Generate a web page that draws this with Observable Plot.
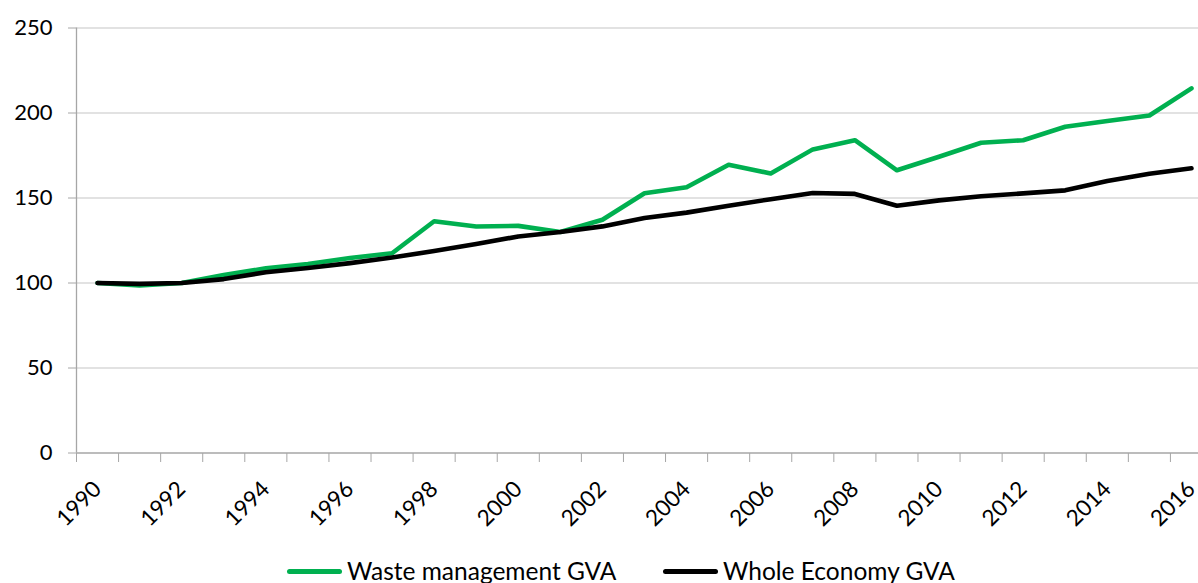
<!DOCTYPE html>
<html>
<head>
<meta charset="utf-8">
<script src="https://cdn.jsdelivr.net/npm/d3@7"></script>
<script src="https://cdn.jsdelivr.net/npm/@observablehq/plot@0.6"></script>
<style>
  html, body { margin: 0; padding: 0; background: #fff; overflow: hidden; }
  #wrap { position: relative; width: 1198px; height: 583px; font-family: Lato, "Open Sans", sans-serif; }
  .leg { position: absolute; top: 556px; height: 30px; line-height: 30px; display: flex; align-items: center; font-size: 24.5px; color: #000; white-space: nowrap; }
  .sw { width: 55px; height: 5px; border-radius: 3px; margin-right: 5px; }
</style>
</head>
<body>
<div id="wrap"></div>
<script>
const years = [1990,1991,1992,1993,1994,1995,1996,1997,1998,1999,2000,2001,2002,2003,2004,2005,2006,2007,2008,2009,2010,2011,2012,2013,2014,2015,2016];
const wasteGVA = [100,98.6,100,104.7,108.6,111.2,114.7,117.5,136.3,133.2,133.6,130,137.2,152.8,156.3,169.6,164.4,178.6,184,166.3,174.3,182.5,184,191.9,195.3,198.5,214.5];
const economyGVA = [100,99.5,100,102.3,106.3,108.8,111.7,115,118.8,122.9,127.4,130,133.3,138.2,141.4,145.5,149.3,152.9,152.4,145.4,148.6,151,152.7,154.5,160,164.3,167.5];
const yTicks = [0,50,100,150,200,250];
const xLabelYears = [1990,1992,1994,1996,1998,2000,2002,2004,2006,2008,2010,2012,2014,2016];
const seriesNames = ["Waste management GVA","Whole Economy GVA"];
const seriesColors = ["#00B050","#000000"];

const rows = [];
years.forEach((y,i) => {
  rows.push({year:y, value:wasteGVA[i], series:seriesNames[0]});
  rows.push({year:y, value:economyGVA[i], series:seriesNames[1]});
});
const tickBounds = years.map(y => y - 0.5).concat([years[years.length-1] + 0.5]);

const chart = Plot.plot({
  width: 1198,
  height: 550,
  marginLeft: 76,
  marginRight: 0,
  marginTop: 27,
  marginBottom: 97,
  style: {fontFamily: "Lato, 'Open Sans', sans-serif", fontSize: "22px", color: "#000", background: "#fff", overflow: "visible"},
  x: {domain: [1989.5, 2016.5], range: [76, 1212]},
  y: {domain: [0, 250], range: [452.5, 27.5]},
  color: {domain: seriesNames, range: seriesColors},
  marks: [
    Plot.ruleY(yTicks.filter(d => d > 0), {stroke: "#d9d9d9", strokeWidth: 1.3, x1: 1989.5, x2: 2016.5}),
    Plot.ruleY([0], {stroke: "#a6a6a6", strokeWidth: 1.3, x1: 1989.5, x2: 2016.5}),
    Plot.ruleX([1989.5], {y1: 0, y2: 250, stroke: "#a6a6a6", strokeWidth: 1.3}),
    Plot.axisY({ticks: yTicks, tickSize: 8, tickPadding: 16, stroke: "#a6a6a6", strokeOpacity: 1, fontSize: 22, fill: "#000", label: null}),
    Plot.axisX({ticks: tickBounds, tickSize: 9, stroke: "#a6a6a6", strokeOpacity: 1, text: null, label: null}),
    Plot.axisX({ticks: xLabelYears, tickSize: 0, tickRotate: -45, tickPadding: 14, tickFormat: d => String(d), fontSize: 22.5, fill: "#000", label: null, dx: 0, dy: 18}),
    Plot.line(rows.filter(d => d.series === seriesNames[0]), {x: "year", y: "value", stroke: "series", strokeWidth: 4.6}),
    Plot.line(rows.filter(d => d.series === seriesNames[1]), {x: "year", y: "value", stroke: "series", strokeWidth: 4.6})
  ]
});
const wrap = document.getElementById("wrap");
wrap.appendChild(chart);

const legPos = [287, 663];
seriesNames.forEach((name, i) => {
  const item = document.createElement("div");
  item.className = "leg";
  item.style.left = legPos[i] + "px";
  const sw = document.createElement("div");
  sw.className = "sw";
  sw.style.background = seriesColors[i];
  const t = document.createElement("span");
  t.textContent = name;
  item.appendChild(sw);
  item.appendChild(t);
  wrap.appendChild(item);
});
</script>
</body>
</html>
